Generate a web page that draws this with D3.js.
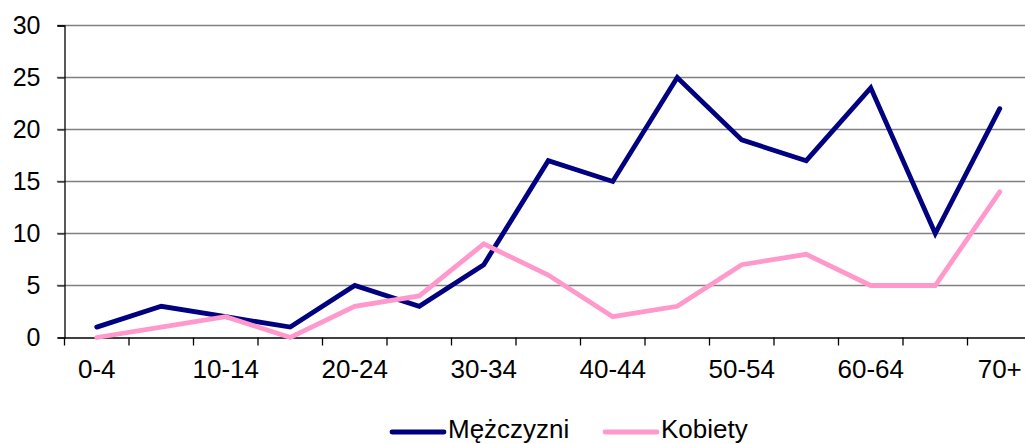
<!DOCTYPE html>
<html lang="pl">
<head>
<meta charset="UTF-8">
<title>Wykres liniowy</title>
<script src="https://d3js.org/d3.v7.min.js"></script>
<style>
  body { margin: 0; background: #fff; }
  text { font-family: "Liberation Sans", Arial, sans-serif; fill: #000; }
</style>
</head>
<body>
<div id="chart"></div>
<script>
// data
var categories = ["0-4", "5-9", "10-14", "15-19", "20-24", "25-29", "30-34", "35-39",
                  "40-44", "45-49", "50-54", "55-59", "60-64", "65-69", "70+"];
var men = [1, 3, 2, 1, 5, 3, 7, 17, 15, 25, 19, 17, 24, 10, 22];
var women = [0, 1, 2, 0, 3, 4, 9, 6, 2, 3, 7, 8, 5, 5, 14];
var yTicks = [0, 5, 10, 15, 20, 25, 30];
var seriesNames = ["Mężczyzni", "Kobiety"];
var colors = ["#000080", "#FF99CC"];

var width = 1025, height = 444;
var svg = d3.select("#chart").append("svg")
    .attr("width", width)
    .attr("height", height);

var x = d3.scaleBand().domain(categories).range([64.5, 1032]);
var y = d3.scaleLinear().domain([0, 30]).range([337.5, 25.5]);

// gridlines
svg.append("g").selectAll("line")
    .data(yTicks.filter(function(d) { return d > 0; }))
    .enter().append("line")
    .attr("x1", 57).attr("x2", width)
    .attr("y1", function(d) { return y(d); })
    .attr("y2", function(d) { return y(d); })
    .attr("stroke", "#808080")
    .attr("stroke-width", 1.3);

// y axis
var yAxis = svg.append("g")
    .attr("transform", "translate(64.5,0)")
    .call(d3.axisLeft(y).tickValues(yTicks).tickSize(7).tickPadding(17));
yAxis.select(".domain").attr("stroke", "#000").attr("stroke-width", 1.3);
yAxis.selectAll(".tick line").attr("stroke", "#000");
yAxis.selectAll("text").style("font-size", "25px")
    .attr("font-family", "Liberation Sans, Arial, sans-serif");

// x axis - ticks at category boundaries
var xAxis = svg.append("g")
    .attr("transform", "translate(0,337.5)")
    .call(d3.axisBottom(x).tickSize(0).tickPadding(22)
        .tickFormat(function(d, i) { return i % 2 === 0 ? d : ""; }));
xAxis.select(".domain").attr("stroke", "#000").attr("stroke-width", 1.3);
xAxis.selectAll("text").style("font-size", "26px")
    .attr("font-family", "Liberation Sans, Arial, sans-serif");

xAxis.selectAll(".boundary")
    .data(categories)
    .enter().append("line")
    .attr("class", "boundary")
    .attr("x1", function(d) { return x(d); })
    .attr("x2", function(d) { return x(d); })
    .attr("y1", 0).attr("y2", 8)
    .attr("stroke", "#000")
    .attr("stroke-width", 1.3);

// lines
var line = d3.line()
    .x(function(d, i) { return x(categories[i]) + x.bandwidth() / 2; })
    .y(function(d) { return y(d); });

[men, women].forEach(function(s, i) {
  svg.append("path")
      .datum(s)
      .attr("fill", "none")
      .attr("stroke", colors[i])
      .attr("stroke-width", 4.8)
      .attr("stroke-linejoin", "miter")
      .attr("stroke-linecap", "round")
      .attr("d", line);
});

// legend
var legendX = [392, 605];
seriesNames.forEach(function(name, i) {
  var g = svg.append("g").attr("transform", "translate(" + legendX[i] + ",432)");
  g.append("line")
      .attr("x1", 0).attr("x2", 52)
      .attr("stroke", colors[i])
      .attr("stroke-width", 4.8)
      .attr("stroke-linecap", "round");
  g.append("text")
      .attr("x", 56)
      .attr("y", 6)
      .style("font-size", "26px")
      .text(name);
});
</script>
</body>
</html>
